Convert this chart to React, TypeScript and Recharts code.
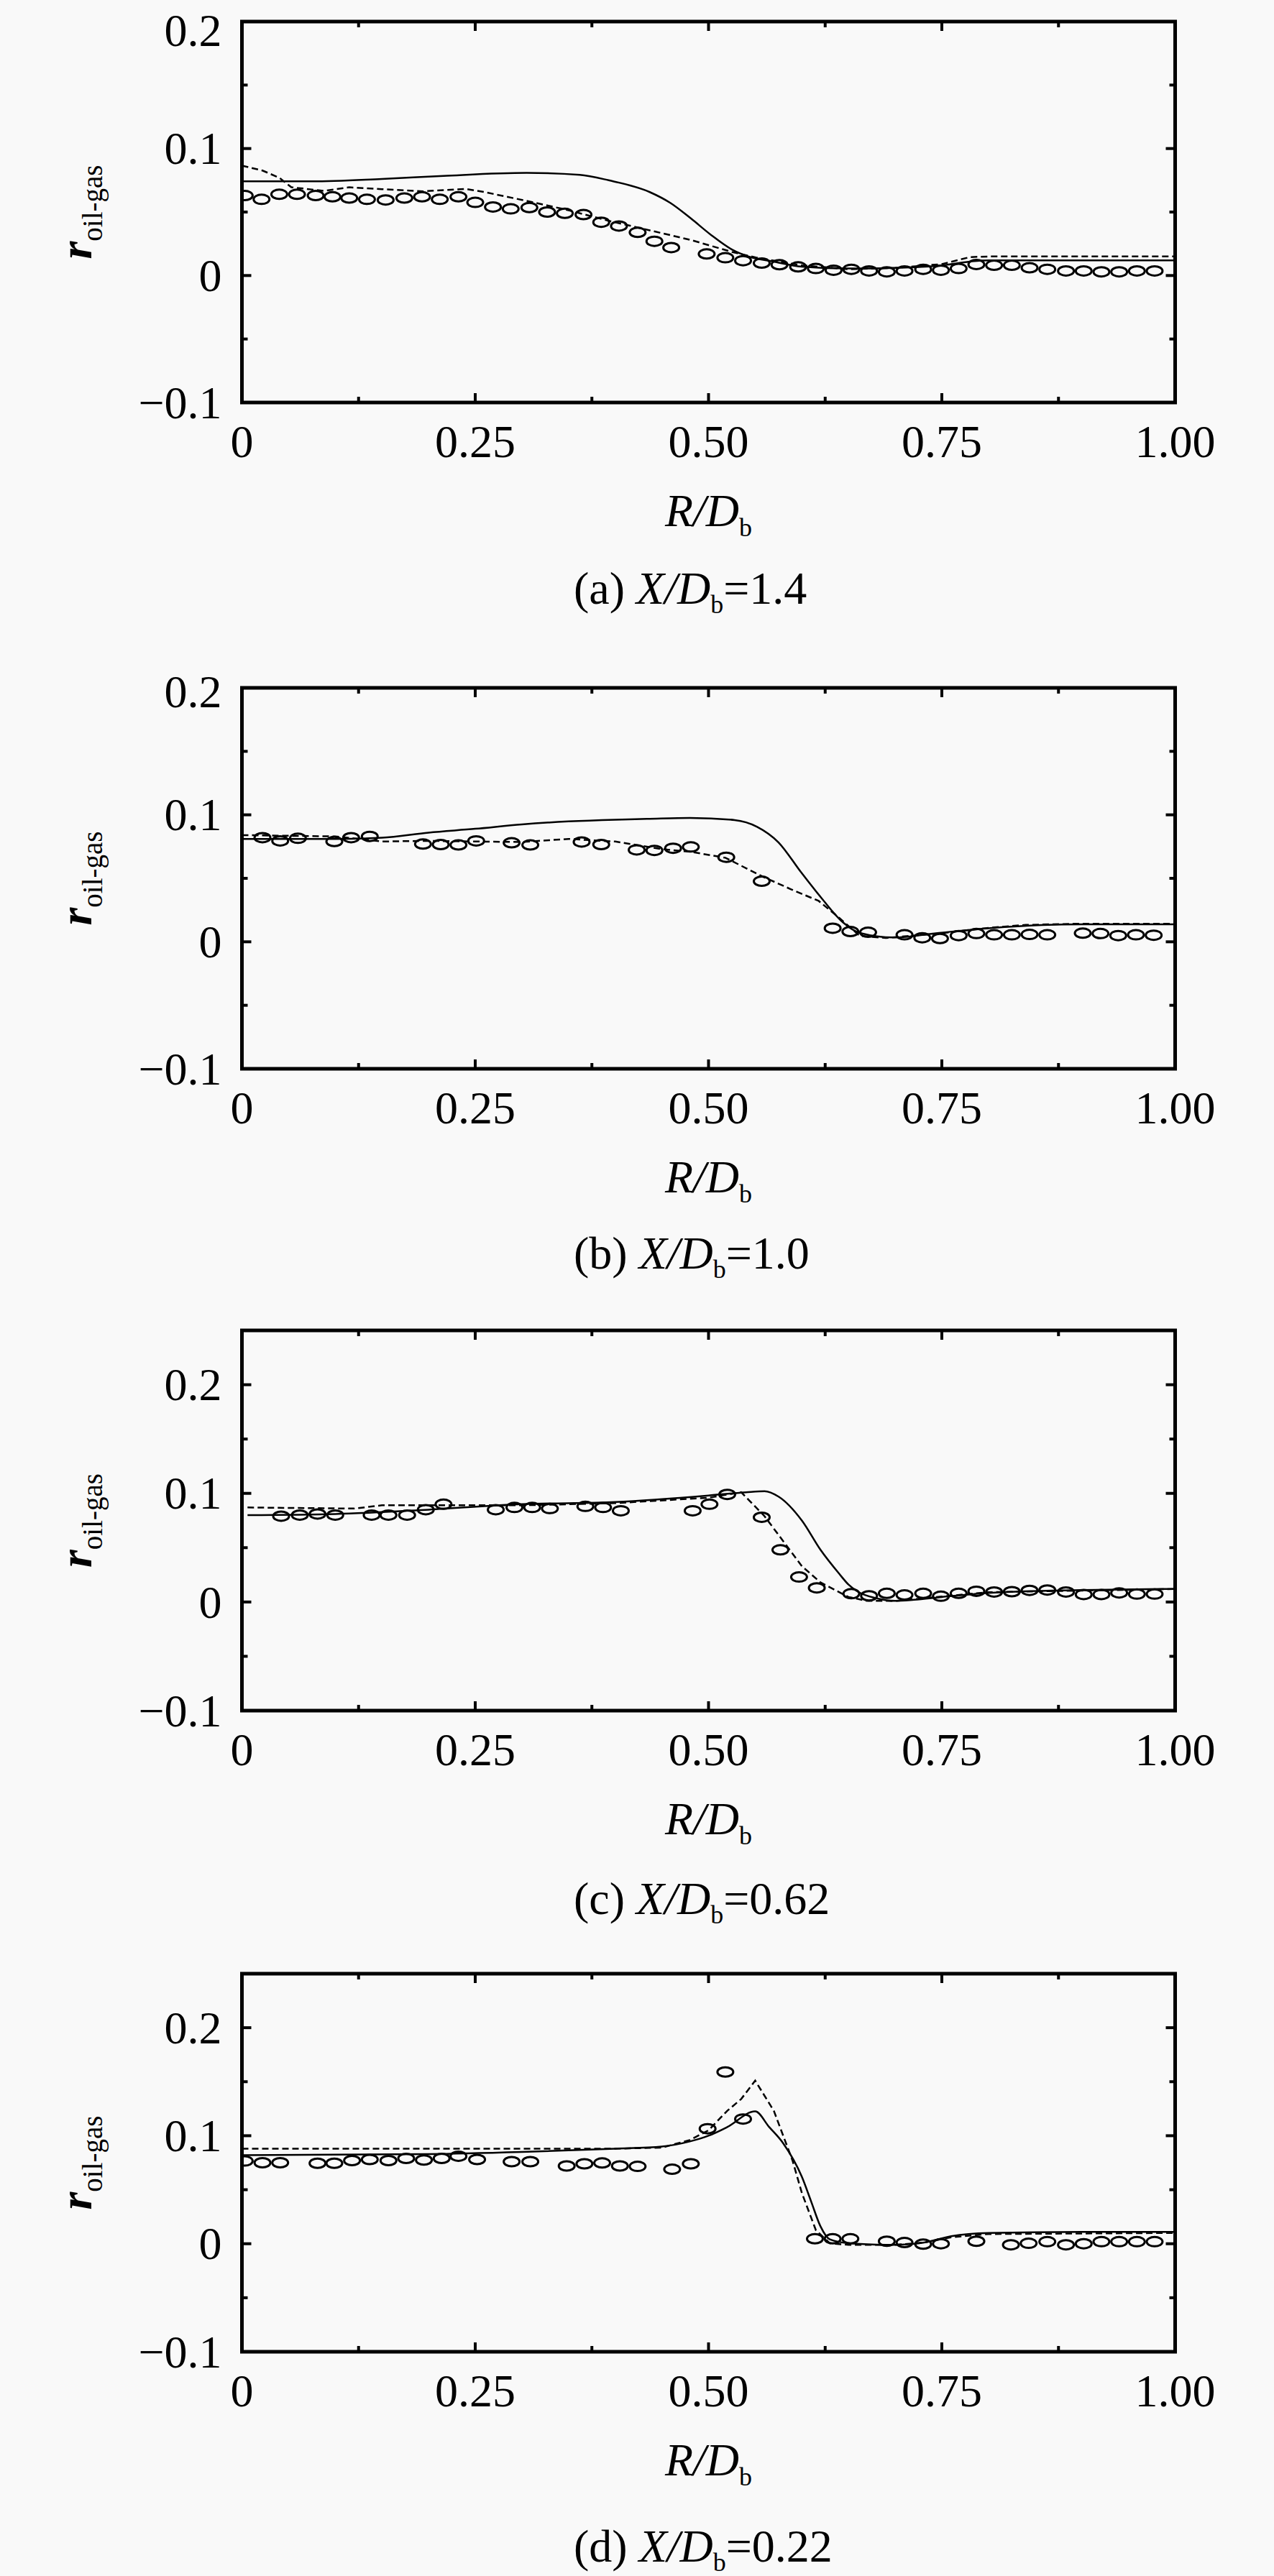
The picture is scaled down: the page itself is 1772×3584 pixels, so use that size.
import React from 'react';
import { ComposedChart, Line, Scatter, XAxis, YAxis, ReferenceArea } from 'recharts';

// ---------------- data ----------------
const xTicks = [0, 0.125, 0.25, 0.375, 0.5, 0.625, 0.75, 0.875, 1];
const xTickLabels = ['0', '', '0.25', '', '0.50', '', '0.75', '', '1.00'];
const yTicks = [-0.1, -0.05, 0, 0.05, 0.1, 0.15, 0.2];
const yTickLabels = ['\u22120.1', '', '0', '', '0.1', '', '0.2'];

const captionsLetter = ['(a) ', '(b) ', '(c) ', '(d) '];
const captionsValue = ['=1.4', '=1.0', '=0.62', '=0.22'];
const yMaxes = [0.2, 0.2, 0.25, 0.25];

const expA: [number, number][] = [
  [0.003, 0.063], [0.021, 0.060], [0.040, 0.064], [0.059, 0.064], [0.079, 0.063], [0.097, 0.062],
  [0.115, 0.061], [0.134, 0.060], [0.154, 0.0595], [0.174, 0.061], [0.193, 0.062], [0.212, 0.060],
  [0.232, 0.062], [0.250, 0.0576], [0.269, 0.054], [0.288, 0.0525], [0.308, 0.0535], [0.327, 0.050],
  [0.346, 0.049], [0.366, 0.048], [0.385, 0.042], [0.404, 0.039], [0.424, 0.034], [0.442, 0.027],
  [0.460, 0.022], [0.498, 0.017], [0.518, 0.014], [0.537, 0.0117], [0.557, 0.0098], [0.576, 0.0085],
  [0.596, 0.0068], [0.615, 0.0055], [0.634, 0.0042], [0.653, 0.0049], [0.672, 0.0036], [0.691, 0.0029],
  [0.710, 0.0036], [0.730, 0.0049], [0.749, 0.0042], [0.768, 0.0055], [0.787, 0.0087], [0.806, 0.0081],
  [0.825, 0.0081], [0.844, 0.0061], [0.863, 0.0049], [0.883, 0.0036], [0.902, 0.0036], [0.921, 0.0029],
  [0.940, 0.0029], [0.959, 0.0036], [0.978, 0.0036],
];
const solidA: [number, number][] = [
  [0, 0.0742], [0.075, 0.0742], [0.15, 0.0761], [0.216, 0.0785], [0.305, 0.0808], [0.362, 0.0793],
  [0.393, 0.075], [0.437, 0.0657], [0.459, 0.0572], [0.481, 0.045], [0.503, 0.0318], [0.525, 0.0205],
  [0.543, 0.0149], [0.569, 0.0111], [0.6, 0.007], [0.65, 0.0055], [0.7, 0.006], [0.75, 0.008],
  [0.78, 0.011], [0.8, 0.012], [1.0, 0.012],
];
const dashedA: [number, number][] = [
  [0, 0.0865], [0.022, 0.0827], [0.04, 0.077], [0.053, 0.0695], [0.088, 0.0667], [0.115, 0.0695],
  [0.15, 0.068], [0.194, 0.0663], [0.24, 0.0682], [0.26, 0.0657], [0.305, 0.0588], [0.349, 0.0516],
  [0.393, 0.0431], [0.437, 0.0356], [0.481, 0.028], [0.525, 0.0186], [0.552, 0.014], [0.6, 0.008],
  [0.65, 0.005], [0.7, 0.006], [0.75, 0.009], [0.78, 0.0145], [0.8, 0.015], [1.0, 0.015],
];

const expB: [number, number][] = [
  [0.022, 0.082], [0.041, 0.0795], [0.060, 0.0815], [0.099, 0.079], [0.117, 0.082], [0.137, 0.083],
  [0.194, 0.077], [0.213, 0.0766], [0.232, 0.0763], [0.251, 0.0795], [0.289, 0.078], [0.309, 0.0763],
  [0.364, 0.0786], [0.385, 0.0766], [0.423, 0.0724], [0.442, 0.072], [0.462, 0.0737], [0.481, 0.0747],
  [0.519, 0.0666], [0.557, 0.0477], [0.633, 0.0107], [0.652, 0.0081], [0.671, 0.0075], [0.710, 0.0055],
  [0.729, 0.0032], [0.748, 0.0026], [0.768, 0.0049], [0.787, 0.0065], [0.806, 0.0055], [0.825, 0.0055],
  [0.844, 0.0058], [0.863, 0.0055], [0.901, 0.0068], [0.920, 0.0065], [0.939, 0.0049], [0.958, 0.0055],
  [0.977, 0.0052],
];
const solidB: [number, number][] = [
  [0, 0.081], [0.1, 0.081], [0.15, 0.082], [0.2, 0.086], [0.25, 0.089], [0.3, 0.0925], [0.35, 0.0948],
  [0.4, 0.0962], [0.434, 0.0968], [0.48, 0.0976], [0.528, 0.0959], [0.552, 0.0906], [0.575, 0.0783],
  [0.599, 0.0549], [0.6215, 0.034], [0.644, 0.0153], [0.662, 0.007], [0.699, 0.0034], [0.747, 0.007],
  [0.802, 0.0108], [0.857, 0.0132], [0.9, 0.0138], [1.0, 0.0138],
];
const dashedB: [number, number][] = [
  [0, 0.084], [0.1, 0.083], [0.15, 0.079], [0.2, 0.0795], [0.25, 0.079], [0.3, 0.0786], [0.35, 0.081],
  [0.4, 0.079], [0.45, 0.073], [0.4815, 0.0708], [0.518, 0.0662], [0.559, 0.051], [0.588, 0.0415],
  [0.618, 0.0322], [0.64, 0.0189], [0.662, 0.0047], [0.69, 0.003], [0.747, 0.0066], [0.8, 0.011],
  [0.84, 0.0133], [0.894, 0.0142], [1.0, 0.0142],
];

const expC: [number, number][] = [
  [0.042, 0.079], [0.062, 0.080], [0.081, 0.081], [0.100, 0.080], [0.139, 0.080], [0.157, 0.080],
  [0.177, 0.080], [0.197, 0.085], [0.216, 0.090], [0.272, 0.085], [0.292, 0.087], [0.311, 0.087],
  [0.330, 0.086], [0.368, 0.088], [0.387, 0.087], [0.406, 0.084], [0.483, 0.084], [0.501, 0.090],
  [0.520, 0.099], [0.557, 0.078], [0.577, 0.048], [0.597, 0.023], [0.616, 0.013], [0.653, 0.0076],
  [0.672, 0.0057], [0.691, 0.008], [0.710, 0.0065], [0.730, 0.008], [0.749, 0.0053], [0.768, 0.008],
  [0.787, 0.0099], [0.806, 0.0092], [0.825, 0.0095], [0.844, 0.0107], [0.863, 0.011], [0.883, 0.0092],
  [0.902, 0.0069], [0.921, 0.0069], [0.940, 0.0084], [0.959, 0.0073], [0.978, 0.0073],
];
const solidC: [number, number][] = [
  [0.006, 0.080], [0.1, 0.081], [0.2, 0.085], [0.3, 0.090], [0.4, 0.092], [0.5, 0.098], [0.54, 0.101],
  [0.56, 0.102], [0.575, 0.097], [0.6, 0.075], [0.62, 0.048], [0.64, 0.026], [0.65, 0.016],
  [0.66, 0.0095], [0.68, 0.0034], [0.7, 0.001], [0.72, 0.002], [0.75, 0.0046], [0.8, 0.0084],
  [0.9, 0.011], [1.0, 0.012],
];
const dashedC: [number, number][] = [
  [0.006, 0.087], [0.12, 0.086], [0.15, 0.089], [0.3, 0.089], [0.4, 0.091], [0.5, 0.096], [0.535, 0.101],
  [0.56, 0.079], [0.58, 0.056], [0.6, 0.033], [0.62, 0.018], [0.65, 0.0046], [0.67, 0.001], [0.7, 0.001],
  [0.75, 0.005], [0.8, 0.009], [1.0, 0.012],
];

const expD: [number, number][] = [
  [0.003, 0.0766], [0.022, 0.075], [0.041, 0.075], [0.081, 0.0745], [0.099, 0.0745], [0.118, 0.077],
  [0.137, 0.078], [0.157, 0.077], [0.176, 0.079], [0.195, 0.0775], [0.214, 0.079], [0.232, 0.081],
  [0.252, 0.078], [0.289, 0.076], [0.309, 0.076], [0.348, 0.072], [0.367, 0.074], [0.386, 0.0748],
  [0.405, 0.072], [0.424, 0.0716], [0.461, 0.069], [0.481, 0.074], [0.499, 0.1065], [0.518, 0.159],
  [0.537, 0.1155], [0.614, 0.0046], [0.633, 0.0046], [0.652, 0.0046], [0.691, 0.0023], [0.710, 0.0011],
  [0.730, -0.0004], [0.749, 0], [0.787, 0.0023], [0.824, -0.001], [0.843, 0.0004], [0.863, 0.0019],
  [0.883, -0.001], [0.902, 0], [0.921, 0.0019], [0.940, 0.0019], [0.959, 0.0019], [0.978, 0.0019],
];
const solidD: [number, number][] = [
  [0, 0.082], [0.2, 0.083], [0.3, 0.085], [0.4, 0.088], [0.45, 0.09], [0.48, 0.0947], [0.5, 0.1],
  [0.52, 0.108], [0.55, 0.1225], [0.565, 0.108], [0.58, 0.093], [0.6, 0.062], [0.61, 0.039],
  [0.62, 0.016], [0.63, 0.004], [0.65, 0.0004], [0.68, -0.0008], [0.7, -0.001], [0.73, 0.001],
  [0.76, 0.007], [0.8, 0.010], [0.9, 0.011], [1.0, 0.011],
];
const dashedD: [number, number][] = [
  [0, 0.088], [0.3, 0.088], [0.4, 0.088], [0.45, 0.089], [0.48, 0.096], [0.5, 0.105], [0.52, 0.123],
  [0.535, 0.134], [0.55, 0.151], [0.57, 0.123], [0.59, 0.077], [0.6, 0.047], [0.615, 0.0126],
  [0.63, 0.0004], [0.65, -0.001], [0.7, -0.001], [0.73, 0.001], [0.76, 0.006], [0.8, 0.009], [1.0, 0.010],
];

// ---------------- layout / style ----------------
const FONT = "'Liberation Serif','Times New Roman',Times,serif";
const PAGE_W = 1772;
const PAGE_H = 3584;
const PLOT_LEFT = 336.5;
const PLOT_RIGHT = 1634.5;
const PLOT_W = PLOT_RIGHT - PLOT_LEFT;
const Y_AXIS_W = 60;
const X_AXIS_H = 40;
const Y_LABEL_X = 127;
const BELOW_PLOT = 320;

const panelLayout = [
  { plotTop: 30, marginTop: 30, plotH: 530, capOff: 280, topLabelShift: 12 },
  { plotTop: 957, marginTop: 80, plotH: 530, capOff: 278, topLabelShift: 5 },
  { plotTop: 1851, marginTop: 80, plotH: 529, capOff: 283, topLabelShift: 0 },
  { plotTop: 2746, marginTop: 80, plotH: 526, capOff: 292, topLabelShift: 0 },
];

const toPts = (arr: [number, number][]) => arr.map(([R, r]) => ({ R, r }));

const findIdx = (list: number[], v: number) => list.findIndex((t) => Math.abs(t - v) < 1e-9);

const makeXTick = (plotH: number) => (props: any) => {
  const { x, y, payload } = props;
  const i = findIdx(xTicks, payload.value);
  const label = i >= 0 ? xTickLabels[i] : '';
  const major = label !== '';
  const len = major ? 13 : 8;
  return (
    <g>
      <line x1={x} x2={x} y1={y} y2={y - len} stroke="#000" strokeWidth={4} />
      <line x1={x} x2={x} y1={y - plotH} y2={y - plotH + len} stroke="#000" strokeWidth={4} />
      {major && (
        <text x={x} y={y + 76} textAnchor="middle" fontFamily={FONT} fontSize={64} fill="#000">
          {label}
        </text>
      )}
    </g>
  );
};

const makeYTick = (yMax: number, topShift: number) => (props: any) => {
  const { x, y, payload } = props;
  const i = findIdx(yTicks, payload.value);
  const label = i >= 0 ? yTickLabels[i] : '';
  const major = label !== '';
  const len = major ? 13 : 8;
  const shift = Math.abs(payload.value - yMax) < 1e-9 ? topShift : 0;
  return (
    <g>
      <line x1={x} x2={x + len} y1={y} y2={y} stroke="#000" strokeWidth={4} />
      <line x1={x + PLOT_W} x2={x + PLOT_W - len} y1={y} y2={y} stroke="#000" strokeWidth={4} />
      {major && (
        <text x={x - 28} y={y + shift} dy="0.34em" textAnchor="end" fontFamily={FONT} fontSize={64} fill="#000">
          {label}
        </text>
      )}
    </g>
  );
};

const makeXLabel = (idx: number, capOff: number) => (props: any) => {
  const vb = props.viewBox || {};
  const cx = vb.x + vb.width / 2;
  const yb = vb.y;
  return (
    <g>
      <text x={cx} y={yb + 172} textAnchor="middle" fontFamily={FONT} fontSize={64} fill="#000">
        <tspan fontStyle="italic">R/D</tspan>
        <tspan fontSize={36} dy={14}>b</tspan>
      </text>
      <text x={798} y={yb + capOff} textAnchor="start" fontFamily={FONT} fontSize={64} fill="#000">
        <tspan>{captionsLetter[idx]}</tspan>
        <tspan fontStyle="italic">X/D</tspan>
        <tspan fontSize={36} dy={13}>b</tspan>
        <tspan dy={-13}>{captionsValue[idx]}</tspan>
      </text>
    </g>
  );
};

const YLabel = (props: any) => {
  const vb = props.viewBox || {};
  const cy = vb.y + vb.height / 2;
  return (
    <text
      x={Y_LABEL_X}
      y={cy}
      transform={`rotate(-90, ${Y_LABEL_X}, ${cy})`}
      textAnchor="middle"
      fontFamily={FONT}
      fill="#000"
    >
      <tspan fontSize={64} fontWeight="bold" fontStyle="italic">r</tspan>
      <tspan fontSize={39} dy={15}>oil-gas</tspan>
    </text>
  );
};

const Ellipse = (props: any) => {
  const { cx, cy } = props;
  if (cx == null || cy == null) return null;
  return <ellipse cx={cx} cy={cy} rx={11} ry={6.5} fill="none" stroke="#000" strokeWidth={3} />;
};

const seriesSets = [
  { exp: expA, solid: solidA, dashed: dashedA },
  { exp: expB, solid: solidB, dashed: dashedB },
  { exp: expC, solid: solidC, dashed: dashedC },
  { exp: expD, solid: solidD, dashed: dashedD },
];

function Panel({ idx }: { idx: number }) {
  const lay = panelLayout[idx];
  const s = seriesSets[idx];
  const yMax = yMaxes[idx];
  const chartH = lay.marginTop + lay.plotH + BELOW_PLOT;
  const marginBottom = BELOW_PLOT - X_AXIS_H;
  return (
    <div
      style={{
        position: 'absolute',
        left: 0,
        top: lay.plotTop - lay.marginTop,
        width: PAGE_W,
        height: chartH,
      }}
    >
      <ComposedChart
        width={PAGE_W}
        height={chartH}
        margin={{
          top: lay.marginTop,
          right: PAGE_W - PLOT_RIGHT,
          bottom: marginBottom,
          left: PLOT_LEFT - Y_AXIS_W,
        }}
      >
        <XAxis
          type="number"
          dataKey="R"
          domain={[0, 1]}
          ticks={xTicks}
          interval={0}
          allowDataOverflow
          height={X_AXIS_H}
          tickSize={0}
          tickMargin={0}
          tickLine={false}
          axisLine={false}
          tick={makeXTick(lay.plotH)}
          label={makeXLabel(idx, lay.capOff)}
        />
        <YAxis
          type="number"
          dataKey="r"
          domain={[-0.1, yMax]}
          ticks={yTicks}
          interval={0}
          allowDataOverflow
          width={Y_AXIS_W}
          tickSize={0}
          tickMargin={0}
          tickLine={false}
          axisLine={false}
          tick={makeYTick(yMax, lay.topLabelShift)}
          label={YLabel}
        />
        <Line
          data={toPts(s.dashed)}
          dataKey="r"
          type="linear"
          stroke="#000"
          strokeWidth={2.5}
          strokeDasharray="9 5"
          dot={false}
          activeDot={false}
          isAnimationActive={false}
        />
        <Line
          data={toPts(s.solid)}
          dataKey="r"
          type="monotone"
          stroke="#000"
          strokeWidth={2.5}
          dot={false}
          activeDot={false}
          isAnimationActive={false}
        />
        <Scatter data={toPts(s.exp)} dataKey="r" shape={Ellipse} isAnimationActive={false} />
        <ReferenceArea
          x1={0}
          x2={1}
          y1={-0.1}
          y2={yMax}
          fill="none"
          fillOpacity={0}
          stroke="#000"
          strokeWidth={5}
          ifOverflow="visible"
        />
      </ComposedChart>
    </div>
  );
}

export default function App() {
  return (
    <div
      style={{
        position: 'absolute',
        left: 0,
        top: 0,
        width: PAGE_W,
        height: PAGE_H,
        background: '#f9f9f9',
        overflow: 'hidden',
      }}
    >
      {[0, 1, 2, 3].map((i) => (
        <Panel key={i} idx={i} />
      ))}
    </div>
  );
}
